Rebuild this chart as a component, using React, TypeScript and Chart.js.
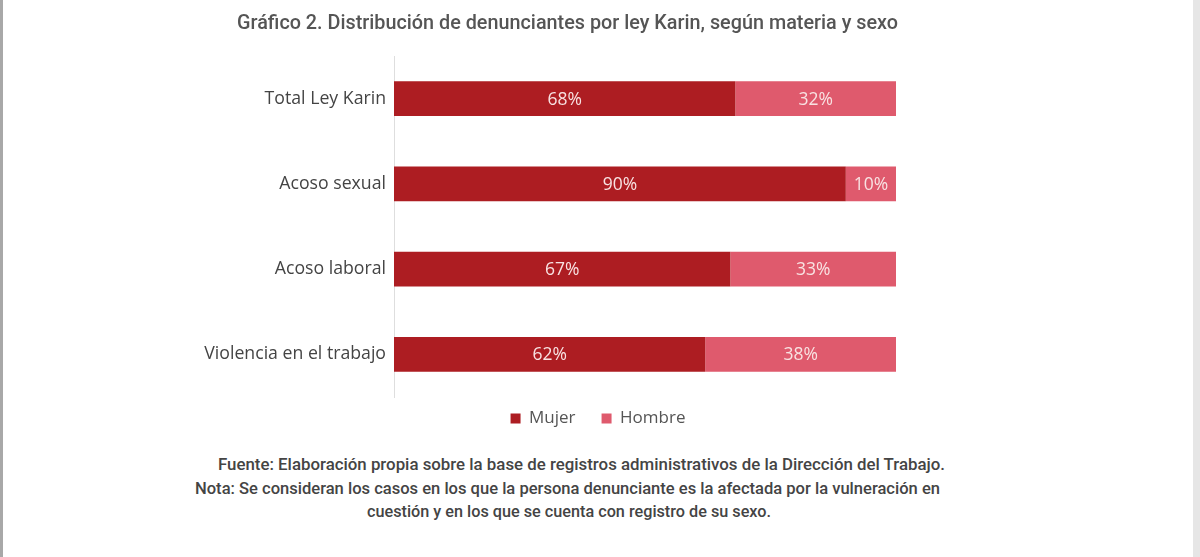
import React, { useEffect, useLayoutEffect, useRef } from "react";
import { Chart, registerables } from "chart.js";

Chart.register(...registerables);

const categories = ["Total Ley Karin", "Acoso sexual", "Acoso laboral", "Violencia en el trabajo"];
const mujerValues = [68, 90, 67, 62];
const hombreValues = [32, 10, 33, 38];
const seriesNames = ["Mujer", "Hombre"];
const titleText = "Gráfico 2. Distribución de denunciantes por ley Karin, según materia y sexo";
const footLines = [
  "Fuente: Elaboración propia sobre la base de registros administrativos de la Dirección del Trabajo.",
  "Nota: Se consideran los casos en los que la persona denunciante es la afectada por la vulneración en",
  "cuestión y en los que se cuenta con registro de su sexo.",
];

const COND = 'Roboto, "DejaVu Sans Condensed", sans-serif';
const BODY = '"Open Sans"';

const valueLabels = {
  id: "valueLabels",
  afterDatasetsDraw(chart: any) {
    const ctx = chart.ctx;
    ctx.save();
    ctx.font = '17.5px "Open Sans"';
    ctx.fillStyle = "#f8e2e2";
    ctx.textAlign = "center";
    ctx.textBaseline = "middle";
    chart.data.datasets.forEach((ds: any, i: number) => {
      const meta = chart.getDatasetMeta(i);
      meta.data.forEach((bar: any, j: number) => {
        const v = ds.data[j];
        const cx = (bar.x + bar.base) / 2;
        ctx.fillText(v + "%", cx, bar.y + 1);
      });
    });
    ctx.restore();
  },
};

const legendShift = {
  id: "legendShift",
  afterLayout(chart: any) {
    const lg = chart.legend;
    if (lg) {
      lg.top -= 13;
      lg.bottom -= 13;
      lg.left -= 2;
      lg.right -= 2;
    }
  },
};

function FitText(props: { text: string; left: number; width: number; top: number; size: number; weight: number; color: string; lh: number }) {
  const ref = useRef<HTMLSpanElement>(null);
  useLayoutEffect(() => {
    const el = ref.current!;
    el.style.transform = "none";
    const w = el.getBoundingClientRect().width;
    if (w > 0) el.style.transform = `scaleX(${props.width / w})`;
  });
  return (
    <span
      ref={ref}
      style={{
        position: "absolute",
        left: props.left,
        top: props.top,
        whiteSpace: "nowrap",
        display: "inline-block",
        transformOrigin: "0 0",
        fontFamily: COND,
        fontSize: props.size,
        fontWeight: props.weight,
        color: props.color,
        lineHeight: props.lh + "px",
      }}
    >
      {props.text}
    </span>
  );
}

export default function App() {
  const ref = useRef<HTMLCanvasElement>(null);
  useEffect(() => {
    document.body.style.margin = "0";
    const chart = new Chart(ref.current!, {
      type: "bar",
      data: {
        labels: categories,
        datasets: [
          { label: seriesNames[0], data: mujerValues, backgroundColor: "#ad1d22", categoryPercentage: 1, barPercentage: 0.405 },
          { label: seriesNames[1], data: hombreValues, backgroundColor: "#df5a6d", categoryPercentage: 1, barPercentage: 0.405 },
        ],
      },
      options: {
        indexAxis: "y",
        animation: false,
        responsive: false,
        maintainAspectRatio: false,
        layout: { padding: { top: 56, bottom: 0, left: 0, right: 0 } },
        scales: {
          x: { stacked: true, min: 0, max: 100, display: false },
          y: {
            stacked: true,
            grid: { display: false },
            border: { display: true, color: "#dedede", width: 1 },
            ticks: { color: "#444", font: { family: BODY, size: 17.7 }, padding: 0 },
            afterFit(scale: any) { scale.width = 394; },
          },
          y2: {
            type: "category",
            labels: categories,
            position: "right",
            grid: { display: false },
            border: { display: false },
            ticks: { display: false },
            afterFit(scale: any) { scale.width = 304; },
          },
        },
        plugins: {
          legend: {
            position: "bottom",
            labels: { boxWidth: 10, boxHeight: 10, color: "#555", font: { family: BODY, size: 17 }, padding: 26 },
          },
          tooltip: { enabled: false },
        },
      },
      plugins: [valueLabels, legendShift],
    });
    return () => chart.destroy();
  }, []);

  return (
    <div style={{ position: "relative", width: 1200, height: 557, background: "#fff", overflow: "hidden" }}>
      <canvas ref={ref} width={1200} height={450} style={{ position: "absolute", left: 0, top: 0, width: 1200, height: 450 }} />
      <FitText text={titleText} left={237} width={661} top={10} size={21} weight={500} color="#555" lh={24} />
      <FitText text={footLines[0]} left={218} width={727} top={453} size={16} weight={500} color="#444" lh={24} />
      <FitText text={footLines[1]} left={195} width={745} top={477} size={16} weight={500} color="#444" lh={24} />
      <FitText text={footLines[2]} left={367} width={404} top={500} size={16} weight={500} color="#444" lh={24} />
      <div style={{ position: "absolute", left: 0, top: 0, width: 3, height: 557, background: "#a8a8a8" }} />
      <div style={{ position: "absolute", right: 0, top: 0, width: 7, height: 557, background: "#e6e6e6" }} />
    </div>
  );
}
